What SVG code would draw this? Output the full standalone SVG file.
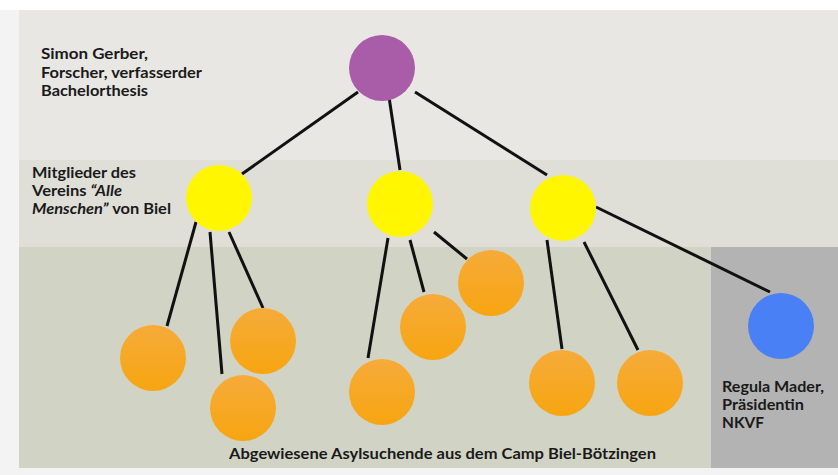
<svg xmlns="http://www.w3.org/2000/svg" width="838" height="475" viewBox="0 0 838 475">
  <defs>
    <linearGradient id="orangeFill" x1="0" y1="0" x2="0" y2="1">
      <stop offset="0" stop-color="#f6ab3a"/>
      <stop offset="1" stop-color="#f7a510"/>
    </linearGradient>
    <style>
      .lbl { font-family: Lato, "Open Sans", "DejaVu Sans", sans-serif; font-weight: bold; font-size: 15px; fill: #1a1a1a; }
      .it { font-style: italic; }
      .link { stroke: #111; stroke-width: 3; stroke-linecap: butt; fill: none; }
      .orange { fill: url(#orangeFill); }
      .yellow { fill: #fff600; }
    </style>
  </defs>

  <!-- backdrop and bands -->
  <rect x="0" y="0" width="838" height="475" fill="#f3f3f3"/>
  <rect x="0" y="0" width="838" height="10" fill="#ffffff"/>
  <rect x="19" y="10" width="819" height="150" fill="#e9e7e3"/>
  <rect x="19" y="160" width="819" height="87" fill="#dfdfd8"/>
  <rect x="19" y="247" width="692" height="221" fill="#d1d3c5"/>
  <rect x="711" y="247" width="127" height="221" fill="#b3b3b3"/>

  <!-- connectors -->
  <g id="connectors">
    <line class="link" x1="358" y1="92" x2="242" y2="174"/>
    <line class="link" x1="389" y1="97" x2="400" y2="170"/>
    <line class="link" x1="415" y1="92" x2="547" y2="175"/>
    <line class="link" x1="596" y1="207" x2="770" y2="292"/>
    <line class="link" x1="196" y1="222" x2="167" y2="326"/>
    <line class="link" x1="210" y1="232" x2="222" y2="374"/>
    <line class="link" x1="229" y1="232" x2="263" y2="308"/>
    <line class="link" x1="388" y1="238" x2="368" y2="358"/>
    <line class="link" x1="410" y1="240" x2="424" y2="292"/>
    <line class="link" x1="434" y1="232" x2="467" y2="259"/>
    <line class="link" x1="547" y1="240" x2="562" y2="349"/>
    <line class="link" x1="584" y1="242" x2="638" y2="350"/>
  </g>

  <!-- root -->
  <g id="researcher">
    <circle cx="382" cy="68" r="33" fill="#a95ca8"/>
  </g>

  <!-- association members -->
  <g id="member-1"><circle class="yellow" cx="219" cy="198" r="33"/></g>
  <g id="member-2"><circle class="yellow" cx="400" cy="204" r="33"/></g>
  <g id="member-3"><circle class="yellow" cx="563" cy="208" r="33"/></g>

  <!-- asylum seekers -->
  <g id="seeker-1"><circle class="orange" cx="153" cy="358" r="33"/></g>
  <g id="seeker-2"><circle class="orange" cx="243" cy="408" r="33"/></g>
  <g id="seeker-3"><circle class="orange" cx="263" cy="341" r="33"/></g>
  <g id="seeker-4"><circle class="orange" cx="382" cy="392" r="33"/></g>
  <g id="seeker-5"><circle class="orange" cx="491" cy="283" r="33"/></g>
  <g id="seeker-6"><circle class="orange" cx="433" cy="327" r="33"/></g>
  <g id="seeker-7"><circle class="orange" cx="562" cy="383" r="33"/></g>
  <g id="seeker-8"><circle class="orange" cx="650" cy="383" r="33"/></g>

  <!-- NKVF president -->
  <g id="president">
    <circle cx="781" cy="326" r="33" fill="#4a80f6"/>
  </g>

  <!-- labels -->
  <g id="label-researcher" class="lbl">
    <text x="41" y="59" textLength="107" lengthAdjust="spacingAndGlyphs">Simon Gerber,</text>
    <text x="41" y="78" textLength="161" lengthAdjust="spacingAndGlyphs">Forscher, verfasserder</text>
    <text x="41" y="96" textLength="107" lengthAdjust="spacingAndGlyphs">Bachelorthesis</text>
  </g>
  <g id="label-members" class="lbl">
    <text x="32" y="178" textLength="104" lengthAdjust="spacingAndGlyphs">Mitglieder des</text>
    <text x="32" y="196" textLength="90" lengthAdjust="spacingAndGlyphs">Vereins <tspan class="it">“Alle</tspan></text>
    <text x="32" y="214" textLength="139" lengthAdjust="spacingAndGlyphs"><tspan class="it">Menschen”</tspan> von Biel</text>
  </g>
  <g id="label-seekers" class="lbl">
    <text x="229" y="459" textLength="427" lengthAdjust="spacingAndGlyphs">Abgewiesene Asylsuchende aus dem Camp Biel-Bötzingen</text>
  </g>
  <g id="label-president" class="lbl">
    <text x="722" y="392" textLength="102" lengthAdjust="spacingAndGlyphs">Regula Mader,</text>
    <text x="722" y="410" textLength="82" lengthAdjust="spacingAndGlyphs">Präsidentin</text>
    <text x="722" y="428" textLength="42" lengthAdjust="spacingAndGlyphs">NKVF</text>
  </g>
</svg>
